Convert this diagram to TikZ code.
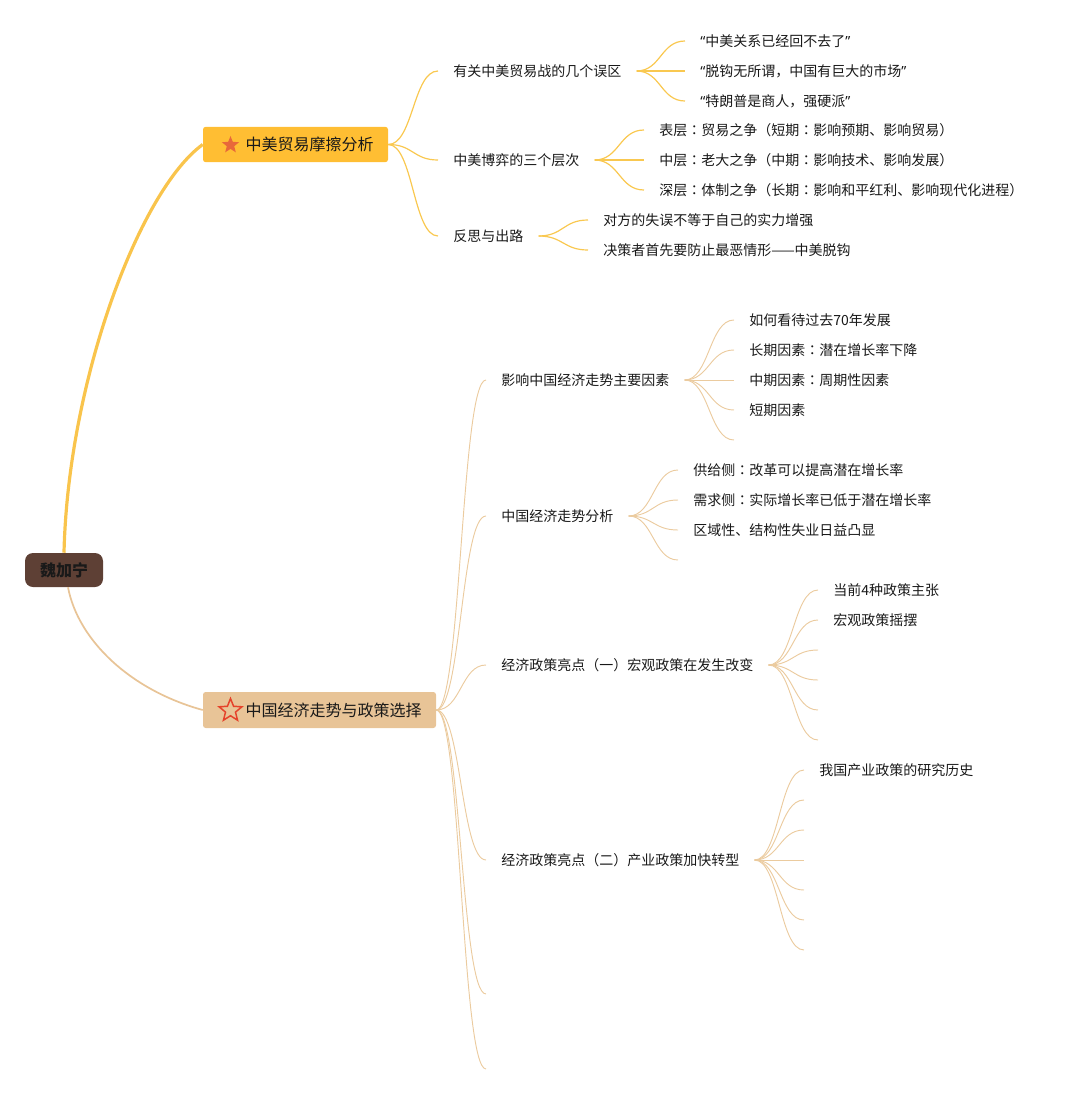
\documentclass[tikz,border=0pt]{standalone}
\usepackage{fontspec}
\newfontfamily\cjk{Noto Sans CJK SC}
\newfontfamily\cjkjp{Noto Sans CJK JP}
\newfontfamily\latin{Noto Sans}
\newcommand\mcolon{{\cjkjp ：}}
\newcommand\openq{{\latin “}}
\newcommand\closeq{{\latin ”}}
\usetikzlibrary{shapes.geometric,calc}

\definecolor{rootbrown}{HTML}{5E4035}
\definecolor{tradegold}{HTML}{FFBE33}
\definecolor{econtan}{HTML}{E8C497}
\definecolor{starorange}{HTML}{E8683A}
\definecolor{starred}{HTML}{E5432B}
\definecolor{goldline}{HTML}{F9C850}
\definecolor{tanline}{HTML}{EBCB9F}

\tikzset{
  branch/.style={to path={let \p1=(\tikztostart), \p2=(\tikztotarget) in
    .. controls ({(\x1+\x2)/2},\y1) and ({(\x1+\x2)/2},\y2) .. (\tikztotarget)}},
  leaf/.style={anchor=west, inner xsep=11.25pt, inner ysep=2pt, text=black!90,
    font=\cjk\fontsize{10.5pt}{12pt}\selectfont},
  mainbox/.style={rounded corners=2pt, inner sep=0pt, minimum height=26.5pt, text=black!90,
    font=\cjk\fontsize{12pt}{14pt}\selectfont},
  goldlink/.style={draw=goldline, line width=0.9pt},
  tanlink/.style={draw=tanline, line width=0.7pt}
}

\begin{document}
\begin{tikzpicture}[x=0.75pt,y=-0.75pt]

\useasboundingbox (0,0) rectangle (1083,1095);

\node [fill=rootbrown, rounded corners=6pt, inner xsep=11.25pt, minimum height=25.5pt, text=black!90,
  font=\cjk\bfseries\fontsize{12pt}{14pt}\selectfont] (wei) at (64,570) {魏加宁};

\node [mainbox, fill=tradegold, minimum width=138.75pt] (trade) at (295.5,144.5) {\hspace*{21pt}中美贸易摩擦分析};
\node [star, star points=5, star point ratio=2.3, minimum size=13.5pt, inner sep=0pt, fill=starorange] (star1) at (230.5,145) {};

\node [mainbox, fill=econtan, minimum width=174.75pt, minimum height=27pt] (econ) at (319.5,710) {\hspace*{21pt}中国经济走势与政策选择};
\node [star, star points=5, star point ratio=2.3, minimum size=18pt, inner sep=0pt, draw=starred, line width=1.1pt] (star2) at (230.5,710.5) {};

\draw [draw=goldline!95!orange, line width=2.4pt] (wei.north) .. controls (68,380) and (140,190) .. (trade.west);
\draw [draw=econtan, line width=1.3pt] ([xshift=3pt]wei.south) .. controls (78,640) and (130,690) .. (econ.west);

\node [leaf] (myth) at (438,71) {有关中美贸易战的几个误区};
\node [leaf] (game) at (438,160) {中美博弈的三个层次};
\node [leaf] (way) at (438,236) {反思与出路};

\node [leaf] (myth1) at (685,41) {\openq 中美关系已经回不去了\closeq};
\node [leaf] (myth2) at (685,71) {\openq 脱钩无所谓，中国有巨大的市场\closeq};
\node [leaf] (myth3) at (685,101) {\openq 特朗普是商人，强硬派\closeq};

\node [leaf] (game1) at (644,130) {表层\mcolon 贸易之争（短期\mcolon 影响预期、影响贸易）};
\node [leaf] (game2) at (644,160) {中层\mcolon 老大之争（中期\mcolon 影响技术、影响发展）};
\node [leaf] (game3) at (644,190) {深层\mcolon 体制之争（长期\mcolon 影响和平红利、影响现代化进程）};

\node [leaf] (way1) at (588,220) {对方的失误不等于自己的实力增强};
\node [leaf] (way2) at (588,250) {决策者首先要防止最恶情形——中美脱钩};

\foreach \c in {myth,game,way}
  \draw [goldlink] (trade.east) to[branch] (\c.west);
\foreach \i in {1,2,3}
  \draw [goldlink] (myth.east) to[branch] (myth\i.west);
\foreach \i in {1,2,3}
  \draw [goldlink] (game.east) to[branch] (game\i.west);
\foreach \i in {1,2}
  \draw [goldlink] (way.east) to[branch] (way\i.west);

\node [leaf] (factor) at (486,380) {影响中国经济走势主要因素};
\node [leaf] (trend) at (486,516) {中国经济走势分析};
\node [leaf] (macro) at (486,665) {经济政策亮点（一）宏观政策在发生改变};
\node [leaf] (industry) at (486,860) {经济政策亮点（二）产业政策加快转型};
\coordinate (econ5) at (486,994);
\coordinate (econ6) at (486,1069);

\node [leaf] (factor1) at (734,320) {如何看待过去70年发展};
\node [leaf] (factor2) at (734,350) {长期因素\mcolon 潜在增长率下降};
\node [leaf] (factor3) at (734,380) {中期因素\mcolon 周期性因素};
\node [leaf] (factor4) at (734,410) {短期因素};
\coordinate (factor5) at (734,440);

\node [leaf] (trend1) at (678,470) {供给侧\mcolon 改革可以提高潜在增长率};
\node [leaf] (trend2) at (678,500) {需求侧\mcolon 实际增长率已低于潜在增长率};
\node [leaf] (trend3) at (678,530) {区域性、结构性失业日益凸显};
\coordinate (trend4) at (678,560);

\node [leaf] (macro1) at (818,590) {当前4种政策主张};
\node [leaf] (macro2) at (818,620) {宏观政策摇摆};
\foreach \i/\y in {3/650,4/680,5/710,6/740}
  \coordinate (macro\i) at (818,\y);

\node [leaf] (industry1) at (804,770) {我国产业政策的研究历史};
\foreach \i/\y in {2/800,3/830,4/860,5/890,6/920,7/950}
  \coordinate (industry\i) at (804,\y);

\foreach \c in {factor,trend,macro,industry}
  \draw [tanlink] (econ.east) to[branch] (\c.west);
\foreach \c in {econ5,econ6}
  \draw [tanlink] (econ.east) to[branch] (\c);

\foreach \i in {1,...,4}
  \draw [tanlink] (factor.east) to[branch] (factor\i.west);
\draw [tanlink] (factor.east) to[branch] (factor5);
\foreach \i in {1,...,3}
  \draw [tanlink] (trend.east) to[branch] (trend\i.west);
\draw [tanlink] (trend.east) to[branch] (trend4);
\foreach \i in {1,2}
  \draw [tanlink] (macro.east) to[branch] (macro\i.west);
\foreach \i in {3,...,6}
  \draw [tanlink] (macro.east) to[branch] (macro\i);
\draw [tanlink] (industry.east) to[branch] (industry1.west);
\foreach \i in {2,...,7}
  \draw [tanlink] (industry.east) to[branch] (industry\i);

\end{tikzpicture}
\end{document}
